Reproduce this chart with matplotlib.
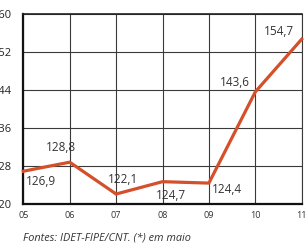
import matplotlib
matplotlib.use("Agg")
import matplotlib.pyplot as plt

years = ["05", "06", "07", "08", "09", "10", "11"]
values = [126.9, 128.8, 122.1, 124.7, 124.4, 143.6, 154.7]
labels = ["126,9", "128,8", "122,1", "124,7", "124,4", "143,6", "154,7"]
yticks = [120, 128, 136, 144, 152, 160]
# label offsets in pixels (dx, dy)
offsets = [(18, -10), (-9, 15), (7, 15), (8, -14), (18, -6), (-20, 9), (-23, 8)]

plt.rcParams['font.family'] = ['Open Sans', 'DejaVu Sans']

fig = plt.figure(figsize=(3.05, 2.45), dpi=100)
ax = fig.add_axes([23.3 / 305, 41 / 245, (301.7 - 23.3) / 305, 190 / 245])

x = list(range(len(years)))
ax.plot(x, values, color="#d4502a", lw=2.3, solid_joinstyle="miter", zorder=3, clip_on=False)

ax.set_xlim(0, len(years) - 1)
ax.set_ylim(120, 160)
ax.set_xticks(x)
ax.set_xticklabels(years, fontsize=6.5, color="#333333")
ax.set_yticks(yticks)
ax.set_yticklabels([str(v) for v in yticks], fontsize=8, color="#222222")
ax.tick_params(axis="y", length=0, pad=8.5)
ax.tick_params(axis="x", length=0, pad=5)

ax.grid(True, color="#3a3a3a", lw=0.8)
ax.set_axisbelow(True)
for s in ["left", "bottom"]:
    ax.spines[s].set_linewidth(1.6)
    ax.spines[s].set_color("#111111")
ax.spines["top"].set_linewidth(1.2)
ax.spines["top"].set_color("#222222")
ax.spines["right"].set_linewidth(0.8)
ax.spines["right"].set_color("#3a3a3a")

for xi, v, lab, (dx, dy) in zip(x, values, labels, offsets):
    ax.annotate(lab, (xi, v), xytext=(dx, dy), textcoords="offset pixels",
                ha="center", va="center", fontsize=8.5, color="#333333")

fig.text(23 / 305, 1 - 238 / 245, "Fontes: IDET-FIPE/CNT. (*) em maio",
         fontsize=7.8, style="italic", color="#333333", ha="left", va="center")

fig.savefig("out.png", dpi=100)
